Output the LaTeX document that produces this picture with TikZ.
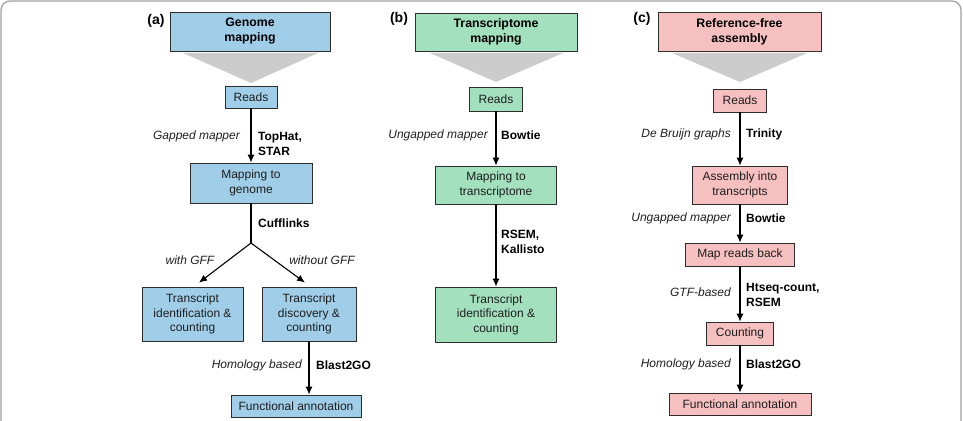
\documentclass[tikz,border=0pt]{standalone}
\usepackage{fontspec}
\setmainfont{Liberation Sans}
\usepackage{tikz}
\usetikzlibrary{arrows.meta}
\definecolor{blueA}{RGB}{160,206,232}
\definecolor{greenB}{RGB}{163,224,190}
\definecolor{pinkC}{RGB}{246,192,192}
\definecolor{funnelgray}{RGB}{204,204,204}
\definecolor{edge}{RGB}{45,45,45}
\definecolor{txt}{RGB}{30,30,30}
\begin{document}
\begin{tikzpicture}[x=1pt,y=1pt]
\tikzstyle{every node}+=[inner sep=0pt, text=txt, font=\fontsize{12}{14.5}\selectfont]
\tikzstyle{box}=[draw=edge, line width=0.8pt, align=center]
\tikzstyle{hd}=[box, text=black, font=\fontsize{12.3}{15}\selectfont\bfseries]
\tikzstyle{via}=[anchor=east, font=\fontsize{12}{14.5}\selectfont\itshape]
\tikzstyle{tool}=[anchor=west, align=left, text=black, font=\fontsize{12}{15}\selectfont\bfseries]
\tikzstyle{tag}=[text=black, font=\fontsize{14}{16}\selectfont\bfseries]
\tikzstyle{flow}=[-{Latex[length=8pt,width=7pt]}, line width=1.1pt, black]
\useasboundingbox (0,0) rectangle (963,-420);
\draw [gray!75, line width=1.2pt, rounded corners=9pt] (1,-1) rectangle (961,-450);
% (a) genome mapping
\node [tag] (tA) at (156,-21) {(a)};
\node [hd, fill=blueA, minimum width=160, minimum height=39] (gA) at (250,-31.5) {Genome\\mapping};
\fill [funnelgray] (183,-53) -- (318,-53) -- (251,-83) -- cycle;
\node [box, fill=blueA, minimum width=52, minimum height=22] (rA) at (251,-97) {Reads};
\node [box, fill=blueA, minimum width=122, minimum height=40] (mA) at (251,-183) {Mapping to\\genome};
\node [box, fill=blueA, minimum width=101, minimum height=54] (iA) at (192.5,-314) {Transcript\\identification \&\\counting};
\node [box, fill=blueA, minimum width=94, minimum height=54] (dA) at (309,-314) {Transcript\\discovery \&\\counting};
\node [box, fill=blueA, minimum width=130, minimum height=22] (fA) at (296,-406) {Functional annotation};
\coordinate (bA) at (251,-243);
\draw [flow] (rA) -- (mA);
\draw [line width=1.1pt] (mA) -- (bA);
\draw [flow] (bA) -- ([xshift=6.5pt,yshift=4pt]iA.north);
\draw [flow] (bA) -- ([xshift=-4pt,yshift=4pt]dA.north);
\draw [flow] (dA.south) -- (dA.south |- fA.north);
\node [via] (vA1) at (240,-136) {Gapped mapper};
\node [tool] (sA1) at (258,-143.5) {TopHat,\\STAR};
\node [tool] (sA2) at (258,-223) {Cufflinks};
\node [via, anchor=center] (vA2) at (190,-260) {with GFF};
\node [via, anchor=center] (vA3) at (322,-260) {without GFF};
\node [via] (vA4) at (302,-365) {Homology based};
\node [tool] (sA3) at (316,-365) {Blast2GO};
% (b) transcriptome mapping
\node [tag] (tB) at (399,-19) {(b)};
\node [hd, fill=greenB, minimum width=162, minimum height=38] (gB) at (496,-32) {Transcriptome\\mapping};
\fill [funnelgray] (430,-53) -- (563,-53) -- (496,-82) -- cycle;
\node [box, fill=greenB, minimum width=53, minimum height=24] (rB) at (496,-99) {Reads};
\node [box, fill=greenB, minimum width=121, minimum height=38] (mB) at (496,-185) {Mapping to\\transcriptome};
\node [box, fill=greenB, minimum width=121, minimum height=55] (iB) at (496,-314.5) {Transcript\\identification \&\\counting};
\draw [flow] (rB) -- (mB);
\draw [flow] (mB) -- (iB);
\node [via] (vB1) at (488,-135) {Ungapped mapper};
\node [tool] (sB1) at (501,-135) {Bowtie};
\node [tool] (sB2) at (501,-242) {RSEM,\\Kallisto};
% (c) reference-free assembly
\node [tag] (tC) at (642,-19) {(c)};
\node [hd, fill=pinkC, minimum width=163, minimum height=39] (gC) at (739.5,-31.5) {Reference-free\\assembly};
\fill [funnelgray] (672,-53) -- (807,-53) -- (740,-82) -- cycle;
\node [box, fill=pinkC, minimum width=53, minimum height=23] (rC) at (740,-100.5) {Reads};
\node [box, fill=pinkC, minimum width=95, minimum height=38] (aC) at (740,-185) {Assembly into\\transcripts};
\node [box, fill=pinkC, minimum width=109, minimum height=23] (bC) at (740,-254.5) {Map reads back};
\node [box, fill=pinkC, minimum width=67, minimum height=23] (cC) at (740,-333.5) {Counting};
\node [box, fill=pinkC, minimum width=142, minimum height=22] (fC) at (740,-404) {Functional annotation};
\draw [flow] (rC) -- (aC);
\draw [flow] (aC) -- (bC);
\draw [flow] (bC) -- (cC);
\draw [flow] (cC) -- (fC);
\node [via] (vC1) at (731,-134) {De Bruijn graphs};
\node [tool] (sC1) at (746,-134) {Trinity};
\node [via] (vC2) at (731,-218) {Ungapped mapper};
\node [tool] (sC2) at (746,-218) {Bowtie};
\node [via] (vC3) at (731,-292) {GTF-based};
\node [tool] (sC3) at (746,-295) {Htseq-count,\\RSEM};
\node [via] (vC4) at (731,-364) {Homology based};
\node [tool] (sC4) at (746,-364) {Blast2GO};
\end{tikzpicture}
\end{document}
